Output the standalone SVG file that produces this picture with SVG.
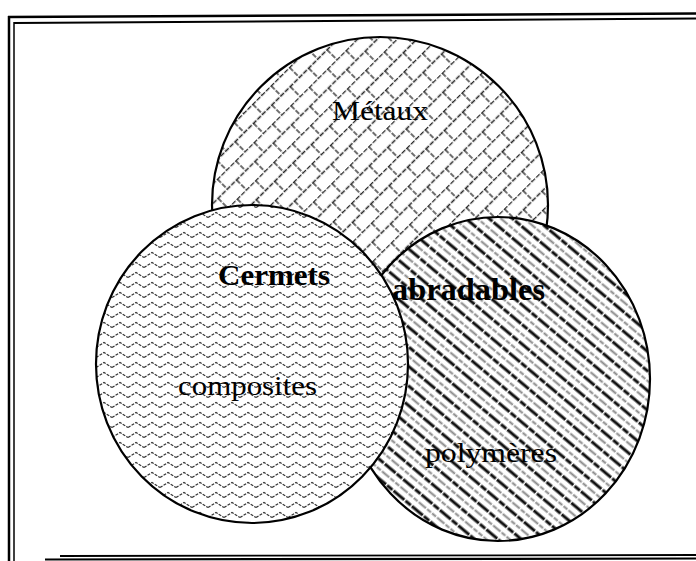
<svg xmlns="http://www.w3.org/2000/svg" width="696" height="561" viewBox="0 0 696 561">
<style>
.outline{stroke:#000;stroke-width:2.2}
.lbl{font-family:"Liberation Serif","Times New Roman",serif;fill:#000}
.bold{font-weight:bold}
.frame{stroke:#000;fill:none}
</style>
<defs>
<pattern id="brick" width="26" height="28" patternUnits="userSpaceOnUse" patternTransform="rotate(-45)">
<rect width="26" height="28" fill="#fff"/>
<path d="M0 0.5H26M0 14.5H26M1 0.5V14.5M14 14.5V28.5" stroke="#222" stroke-width="1.3" stroke-dasharray="5 1.5" fill="none"/>
</pattern>
<pattern id="zig" width="16" height="10" patternUnits="userSpaceOnUse">
<rect width="16" height="10" fill="#fff"/>
<path d="M0 7.5L8 2.5L16 7.5" stroke="#333" stroke-width="1.2" stroke-dasharray="3 1.2" fill="none"/>
</pattern>
<pattern id="stripe" width="24" height="15" patternUnits="userSpaceOnUse" patternTransform="rotate(40)">
<rect width="24" height="15" fill="#fff"/>
<line x1="0" y1="3" x2="24" y2="3" stroke="#111" stroke-width="3.2" stroke-dasharray="7 1.5"/>
<line x1="0" y1="10.5" x2="24" y2="10.5" stroke="#888" stroke-width="1.8" stroke-dasharray="5 1.5"/>
</pattern>
</defs>
<rect width="696" height="561" fill="#fff"/>
<g id="frame">
<path class="frame" d="M8 17L696 13.5" stroke-width="2.5"/>
<path class="frame" d="M14 23L696 18.5" stroke-width="2"/>
<path class="frame" d="M9 16V561" stroke-width="2.5"/>
<path class="frame" d="M14 22V561" stroke-width="1.5"/>
<path class="frame" d="M60 556L696 555" stroke-width="1.8"/>
<path class="frame" d="M45 559.5L696 558.5" stroke-width="2.2"/>
</g>
<g id="metaux">
<circle class="outline" cx="380" cy="205" r="168" fill="url(#brick)"/>
</g>
<g id="abradables">
<ellipse class="outline" cx="498" cy="379" rx="152" ry="162" fill="url(#stripe)"/>
</g>
<g id="cermets">
<ellipse class="outline" cx="252" cy="364" rx="156" ry="159" fill="url(#zig)"/>
</g>
<g id="labels">
<text class="lbl" x="332" y="120" font-size="28" textLength="96" lengthAdjust="spacingAndGlyphs">Métaux</text>
<text class="lbl bold" x="218" y="285" font-size="30" textLength="112" lengthAdjust="spacingAndGlyphs">Cermets</text>
<text class="lbl bold" x="392" y="300" font-size="31" textLength="153" lengthAdjust="spacingAndGlyphs">abradables</text>
<text class="lbl" x="178" y="395" font-size="28" textLength="139" lengthAdjust="spacingAndGlyphs">composites</text>
<text class="lbl" x="425" y="462" font-size="28" textLength="132" lengthAdjust="spacingAndGlyphs">polymères</text>
</g>
<g id="connectors"/>
</svg>
